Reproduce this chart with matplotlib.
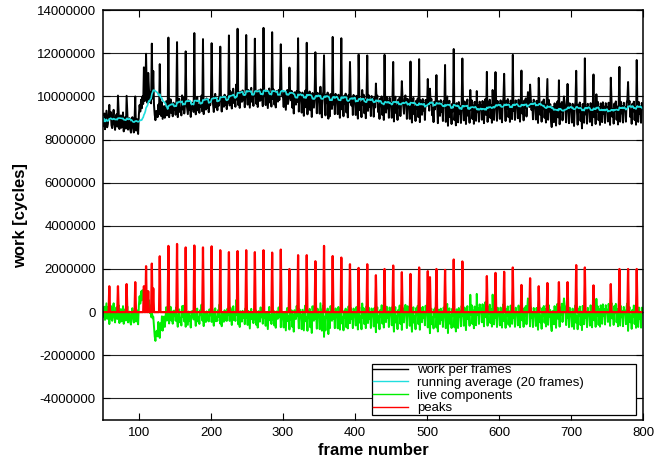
import numpy as np
import pandas as pd
import matplotlib
matplotlib.use("Agg")
import matplotlib.pyplot as plt
from matplotlib.ticker import FuncFormatter

# work per frame without the peaks, in units of 10000 cycles, frames 50..800
work_base = [
    905, 862, 921, 848, 890, 934, 857, 872, 915, 841, 896, 928, 866, 853, 909, 938, 871, 845, 899, 917, 860, 884, 931, 849, 878,
    912, 855, 869, 926, 838, 891, 904, 851, 873, 925, 846, 877, 899, 848, 832, 877, 904, 857, 833, 888, 861, 842, 896, 851, 826,
    915, 960, 930, 985, 945, 1000, 965, 1015, 978, 1030, 985, 1022, 970, 1012, 1035, 975, 1018, 968, 1020, 990, 1008, 962, 915, 890, 932,
    933, 904, 962, 917, 891, 946, 909, 973, 896, 927, 955, 901, 940, 978, 912, 933, 966, 904, 949, 987, 923, 956, 908, 971, 939,
    962, 915, 978, 936, 904, 951, 989, 928, 947, 912, 1005, 940, 995, 921, 957, 909, 973, 946, 918, 982, 937, 960, 905, 966, 944,
    971, 928, 985, 949, 917, 963, 998, 935, 958, 924, 976, 952, 1004, 931, 966, 918, 980, 955, 939, 991, 948, 972, 927, 985, 959,
    984, 942, 1003, 961, 928, 975, 1012, 949, 968, 936, 990, 957, 1018, 944, 979, 930, 995, 966, 952, 1008, 960, 985, 941, 1000, 972,
    1005, 958, 1024, 981, 944, 1012, 1036, 969, 995, 952, 1055, 986, 1031, 960, 1008, 947, 1022, 993, 975, 1028, 982, 1011, 950, 1026, 998,
    1010, 962, 1030, 987, 948, 1018, 1040, 975, 1001, 956, 1025, 990, 1035, 966, 1012, 951, 1028, 997, 979, 1033, 986, 1016, 955, 1031, 1003,
    1008, 960, 1027, 985, 946, 1015, 1037, 972, 998, 953, 1022, 988, 1032, 963, 1009, 949, 1025, 994, 976, 1030, 983, 1050, 952, 1028, 1000,
    1002, 951, 1021, 978, 938, 1009, 1030, 965, 990, 934, 1015, 982, 1026, 948, 1003, 921, 1019, 988, 962, 1024, 975, 1006, 930, 1021, 993,
    997, 925, 1018, 971, 910, 1004, 1027, 950, 985, 917, 1012, 978, 1023, 936, 998, 905, 1016, 983, 948, 1021, 969, 1001, 922, 1017, 988,
    992, 920, 1045, 966, 903, 998, 1022, 884, 980, 912, 1007, 972, 1018, 897, 993, 908, 1011, 978, 942, 1016, 963, 996, 918, 1012, 983,
    988, 918, 1008, 962, 901, 994, 1017, 940, 975, 908, 1003, 968, 1013, 926, 989, 903, 1006, 973, 938, 1011, 958, 991, 914, 1007, 978,
    983, 914, 1003, 957, 897, 989, 1012, 936, 970, 904, 1030, 963, 1008, 922, 984, 899, 1001, 968, 933, 1006, 953, 986, 909, 1002, 973,
    975, 906, 995, 949, 889, 981, 1004, 928, 962, 896, 990, 955, 1000, 914, 976, 891, 993, 960, 925, 998, 945, 978, 901, 994, 965,
    970, 901, 990, 944, 884, 976, 999, 923, 957, 891, 985, 950, 995, 909, 971, 886, 988, 955, 920, 993, 1005, 973, 896, 989, 960,
    965, 896, 985, 939, 879, 971, 994, 918, 952, 886, 980, 945, 990, 904, 966, 881, 983, 950, 915, 988, 935, 968, 891, 984, 955,
    960, 891, 980, 934, 874, 966, 989, 913, 947, 881, 975, 940, 985, 899, 961, 876, 978, 945, 910, 983, 930, 963, 886, 979, 950,
    950, 882, 971, 1000, 864, 957, 980, 904, 938, 872, 966, 931, 976, 890, 952, 866, 969, 936, 880, 974, 921, 954, 877, 970, 941,
    958, 889, 977, 931, 872, 962, 986, 910, 944, 878, 1030, 937, 982, 896, 958, 873, 975, 942, 887, 1025, 927, 960, 883, 976, 947,
    960, 892, 979, 934, 876, 965, 988, 914, 947, 882, 975, 940, 985, 900, 961, 878, 1030, 945, 891, 983, 931, 963, 887, 979, 950,
    963, 896, 982, 937, 880, 968, 991, 918, 950, 886, 978, 943, 988, 904, 964, 882, 981, 948, 895, 986, 934, 966, 891, 982, 953,
    966, 899, 985, 940, 883, 971, 994, 921, 953, 889, 981, 946, 991, 907, 967, 1020, 984, 951, 898, 989, 937, 969, 894, 985, 956,
    961, 893, 980, 934, 877, 966, 989, 915, 948, 883, 976, 941, 986, 901, 962, 879, 979, 946, 892, 984, 931, 964, 888, 858, 951,
    949, 881, 968, 922, 865, 954, 977, 903, 936, 871, 964, 929, 974, 889, 950, 1000, 967, 934, 880, 972, 919, 952, 876, 968, 939,
    947, 879, 966, 920, 863, 952, 975, 901, 934, 869, 962, 927, 972, 887, 948, 852, 965, 932, 878, 970, 917, 950, 874, 966, 937,
    950, 882, 969, 923, 866, 955, 978, 904, 937, 872, 1010, 930, 975, 890, 951, 868, 968, 935, 881, 973, 920, 953, 877, 969, 940,
    952, 884, 971, 925, 868, 957, 980, 906, 939, 874, 967, 932, 977, 892, 953, 870, 970, 937, 883, 975, 922, 955, 879, 971, 942,
    951, 883, 970, 985, 867, 956, 979, 905, 938, 873, 966, 931, 976, 891, 952, 869, 969, 936, 882, 974, 921, 954, 878, 970, 941,
    948,
]

# peak frames and peak heights (millions of cycles)
peak_frames = [59, 71, 83, 95, 107, 110, 113, 118, 120, 129, 141, 153, 165, 177, 189, 201,
               213, 225, 237, 249, 261, 273, 285, 297, 309, 321, 333, 345, 357, 369, 381,
               393, 405, 417, 429, 441, 453, 465, 477, 489, 501, 504, 513, 525, 537, 549,
               583, 595, 607, 619, 631, 643, 655, 667, 683, 695, 707, 719, 731, 755, 767,
               779, 791]
peak_values = [1.2, 1.2, 1.3, 1.39, 1.2, 2.13, 0.97, 2.25, 1.1, 2.59, 3.07, 3.16, 3.0, 3.09, 3.0, 3.05,
               2.87, 2.78, 2.83, 2.87, 2.78, 2.87, 2.76, 2.9, 2.0, 2.64, 2.64, 2.36, 3.07, 2.6, 2.53,
               2.22, 2.05, 2.22, 1.71, 2.0, 2.16, 1.85, 1.77, 2.07, 1.9, 1.62, 2.0, 1.96, 2.44, 2.35,
               1.67, 1.82, 1.87, 2.07, 1.26, 1.57, 1.2, 1.35, 1.39, 1.39, 2.18, 2.07, 1.24, 1.3, 2.0,
               2.0, 2.0]

y_ticks = [-4000000, -2000000, 0, 2000000, 4000000, 6000000, 8000000, 10000000, 12000000, 14000000]
x_ticks = [100, 200, 300, 400, 500, 600, 700, 800]

first_frame = 50
frames = np.arange(first_frame, first_frame + len(work_base))
peaks = pd.Series(0.0, index=frames)
for f, v in zip(peak_frames, peak_values):
    peaks[f] = v * 1e6
work = pd.Series(np.array(work_base, dtype=float) * 1e4, index=frames) + peaks
avg = work.rolling(20, min_periods=1).mean()
live = work - avg - peaks

plt.rcParams['font.family'] = ['Liberation Sans', 'DejaVu Sans']

fig = plt.figure(figsize=(6.55, 4.63), dpi=100)
ax = fig.add_axes([0.157, 0.093, 0.825, 0.885])

ax.plot(frames, work, color='black', lw=1.4, label='work per frames')
ax.plot(frames, avg, color='#20dede', lw=1.2, label='running average (20 frames)')
ax.plot(frames, live, color='#00ee00', lw=1.4, label='live components')
ax.plot(frames, peaks, color='#ff0000', lw=1.6, label='peaks')

ax.set_xlim(50, 800)
ax.set_ylim(-5000000, 14000000)
ax.set_xticks(x_ticks)
ax.set_yticks(y_ticks)
ax.yaxis.set_major_formatter(FuncFormatter(lambda v, p: '%d' % v))
ax.tick_params(direction='in', length=5, width=0.8, labelsize=9.5,
               top=True, right=True, pad=5)
for s in ax.spines.values():
    s.set_linewidth(1.1)
ax.yaxis.grid(True, color='#222222', lw=0.8)
ax.set_axisbelow(True)

ax.set_xlabel('frame number', fontsize=12, fontweight='bold', labelpad=3)
ax.set_ylabel('work [cycles]', fontsize=12, fontweight='bold', labelpad=6)

leg = ax.legend(loc='lower left', bbox_to_anchor=(0.498, 0.012, 0.489, 0.127),
                mode='expand', fontsize=9.5, handlelength=2.7, handletextpad=0.7,
                labelspacing=0.03, borderpad=0.05, fancybox=False, framealpha=1,
                edgecolor='black', borderaxespad=0)
leg.get_frame().set_linewidth(0.9)
for line in leg.get_lines():
    line.set_linewidth(1.0)

fig.savefig('out.png', dpi=100)
